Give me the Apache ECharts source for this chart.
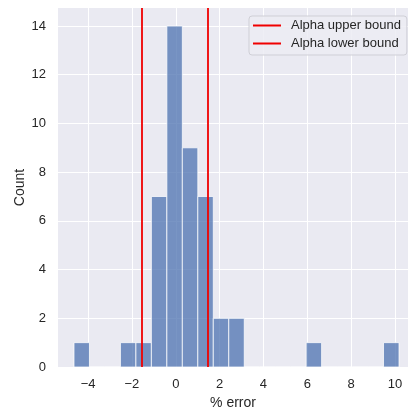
<!DOCTYPE html>
<html>
<head>
<meta charset="utf-8">
<script src="https://cdn.jsdelivr.net/npm/echarts@6/dist/echarts.min.js"></script>
<style>
  html, body { margin: 0; padding: 0; background: #ffffff; }
  #chart { width: 411px; height: 410px; }
</style>
</head>
<body>
<div id="chart"></div>
<script>
// Histogram of % error, bin edges and counts per bin
const binEdges = [-4.640, -3.934, -3.229, -2.523, -1.817, -1.112, -0.406, 0.300, 1.006, 1.711,
                  2.417, 3.123, 3.828, 4.534, 5.240, 5.946, 6.651, 7.357, 8.063, 8.768, 9.474, 10.180];
const binCounts = [1, 0, 0, 1, 1, 7, 14, 9, 7, 2, 2, 0, 0, 0, 0, 1, 0, 0, 0, 0, 1];

// Vertical reference lines
const upperBound = 1.45;
const lowerBound = -1.53;

// Axis ticks
const xTicks = [-4, -2, 0, 2, 4, 6, 8, 10];
const yTicks = [0, 2, 4, 6, 8, 10, 12, 14];

const xMin = -5.37, xMax = 10.59;
const yMin = 0, yMax = 14.74;

const textColor = '#262626';
const boundColor = '#f00000';
const fontFamily = '"Liberation Sans", Arial, sans-serif';

const histData = binCounts.map((c, i) => [binEdges[i], binEdges[i + 1], c]);

const chart = echarts.init(document.getElementById('chart'));
chart.setOption({
  animation: false,
  backgroundColor: '#ffffff',
  grid: {
    left: 58, right: 3, top: 8, bottom: 43,
    outerBoundsMode: 'none', containLabel: false,
    show: true, backgroundColor: '#eaeaf2', borderWidth: 0
  },
  xAxis: {
    type: 'value', min: xMin, max: xMax,
    name: '% error', nameLocation: 'middle', nameGap: 29, nameMoveOverlap: false,
    nameTextStyle: { color: textColor, fontSize: 14, fontFamily },
    axisLine: { show: false }, axisTick: { show: false },
    splitLine: { show: false },
    axisLabel: {
      customValues: xTicks, color: textColor, fontSize: 13, fontFamily, margin: 11,
      formatter: v => (v < 0 ? '\u2212' + Math.abs(v) : String(v))
    }
  },
  yAxis: {
    type: 'value', min: yMin, max: yMax,
    name: 'Count', nameLocation: 'middle', nameGap: 31, nameMoveOverlap: false,
    nameTextStyle: { color: textColor, fontSize: 14, fontFamily },
    axisLine: { show: false }, axisTick: { show: false },
    splitLine: { show: false },
    axisLabel: { customValues: yTicks, color: textColor, fontSize: 13, fontFamily, margin: 12 }
  },
  legend: {
    orient: 'vertical', left: 249, top: 16, z: 10,
    padding: [3, 6, 5, 4],
    backgroundColor: 'rgba(236,236,243,0.85)',
    borderColor: '#cfcfd6', borderWidth: 1, borderRadius: 3,
    itemWidth: 28, itemHeight: 2, itemGap: 5,
    textStyle: { color: textColor, fontSize: 13, fontFamily, padding: [0, 0, 0, 5] },
    data: [
      { name: 'Alpha upper bound', icon: 'rect', itemStyle: { color: boundColor } },
      { name: 'Alpha lower bound', icon: 'rect', itemStyle: { color: boundColor } }
    ]
  },
  series: [
    {
      // white grid lines behind the bars
      type: 'line', data: [], silent: true, z: 1,
      markLine: {
        z: 1, silent: true, symbol: 'none', label: { show: false },
        lineStyle: { color: '#ffffff', width: 1, type: 'solid' },
        data: xTicks.map(v => ({ xAxis: v })).concat(yTicks.map(v => ({ yAxis: v })))
      }
    },
    {
      type: 'custom', z: 2,
      data: histData,
      renderItem: (params, api) => {
        const p0 = api.coord([api.value(0), 0]);
        const p1 = api.coord([api.value(1), api.value(2)]);
        return {
          type: 'rect',
          shape: { x: p0[0], y: p1[1], width: p1[0] - p0[0], height: p0[1] - p1[1] },
          style: { fill: 'rgba(76,114,176,0.75)', stroke: '#ffffff', lineWidth: 0.75 }
        };
      }
    },
    {
      name: 'Alpha upper bound', type: 'line', data: [], z: 3,
      itemStyle: { color: boundColor },
      markLine: {
        z: 3, silent: true, symbol: 'none', label: { show: false },
        lineStyle: { color: boundColor, width: 1.8, type: 'solid' },
        data: [{ xAxis: upperBound }]
      }
    },
    {
      name: 'Alpha lower bound', type: 'line', data: [], z: 3,
      itemStyle: { color: boundColor },
      markLine: {
        z: 3, silent: true, symbol: 'none', label: { show: false },
        lineStyle: { color: boundColor, width: 1.8, type: 'solid' },
        data: [{ xAxis: lowerBound }]
      }
    }
  ]
});
</script>
</body>
</html>
